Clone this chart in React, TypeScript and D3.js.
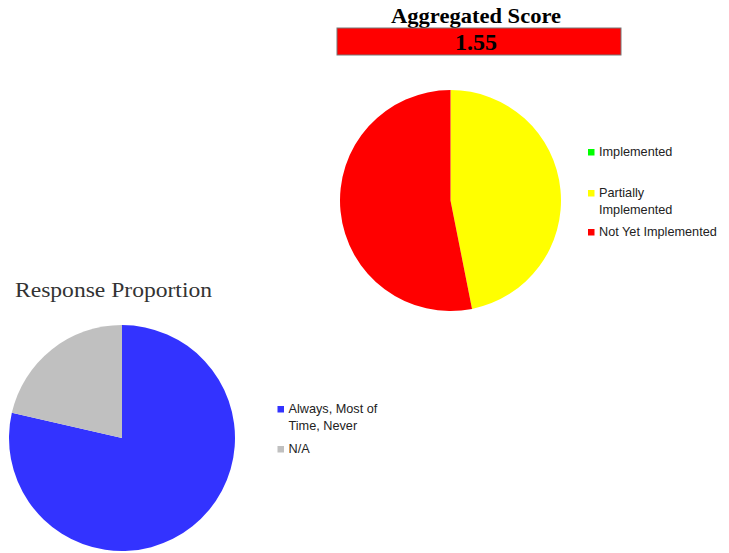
import React from "react";
import * as d3 from "d3";

const scoreCategories = ["Implemented", "Partially Implemented", "Not Yet Implemented"];
const scoreValues = [0, 15, 17];
const scoreColors = ["#00ff00", "#ffff00", "#ff0000"];
const scoreLegendLines = [["Implemented"], ["Partially", "Implemented"], ["Not Yet Implemented"]];
const aggregatedScore = "1.55";

const responseCategories = ["Always, Most of Time, Never", "N/A"];
const responseValues = [22, 6];
const responseColors = ["#3333ff", "#c0c0c0"];
const responseLegendLines = [["Always, Most of", "Time, Never"], ["N/A"]];

const W = 729;
const H = 553;

function Pie({ values, colors, cx, cy, r }: { values: number[]; colors: string[]; cx: number; cy: number; r: number }) {
  const pie = d3.pie<number>().sort(null).value((d) => d);
  const arc = d3.arc<d3.PieArcDatum<number>>().innerRadius(0).outerRadius(r);
  const arcs = pie(values);
  return (
    <g transform={`translate(${cx},${cy})`}>
      {arcs.map((a, i) =>
        a.value > 0 ? <path key={i} d={arc(a) || ""} fill={colors[i]} /> : null
      )}
    </g>
  );
}

function Legend({ lines, colors, x, ys, labels }: { lines: string[][]; colors: string[]; x: number; ys: number[]; labels: string[] }) {
  const font = "'Liberation Sans', Arial, sans-serif";
  return (
    <g>
      {lines.map((ls, i) => (
        <g key={labels[i]}>
          <rect x={x} y={ys[i] - 7} width={6.5} height={6.5} fill={colors[i]} />
          {ls.map((t, j) => (
            <text key={j} x={x + 11} y={ys[i] + j * 17} fontSize={12.7} fontFamily={font} fill="#222">
              {t}
            </text>
          ))}
        </g>
      ))}
    </g>
  );
}

export default function App() {
  const serif = "'Liberation Serif', 'Times New Roman', serif";
  return (
    <svg width={W} height={H} style={{ position: "absolute", left: 0, top: 0, background: "#fff" }}>
      <text x={476} y={23} textAnchor="middle" fontFamily={serif} fontWeight="bold" fontSize={22} fill="#000" textLength={170} lengthAdjust="spacingAndGlyphs">
        Aggregated Score
      </text>
      <rect x={337} y={28} width={284} height={27} fill="#ff0000" stroke="#777" strokeWidth={1} />
      <text x={476} y={50} textAnchor="middle" fontFamily={serif} fontWeight="bold" fontSize={24} fill="#000">
        {aggregatedScore}
      </text>
      <Pie values={scoreValues} colors={scoreColors} cx={450.5} cy={200.5} r={110.5} />
      <Legend lines={scoreLegendLines} colors={scoreColors} x={588} ys={[156, 197, 236]} labels={scoreCategories} />

      <text x={15} y={297} fontFamily={serif} fontSize={22} fill="#333" textLength={197} lengthAdjust="spacingAndGlyphs">
        Response Proportion
      </text>
      <Pie values={responseValues} colors={responseColors} cx={122} cy={438} r={113} />
      <Legend lines={responseLegendLines} colors={responseColors} x={277.5} ys={[413, 453]} labels={responseCategories} />
    </svg>
  );
}
